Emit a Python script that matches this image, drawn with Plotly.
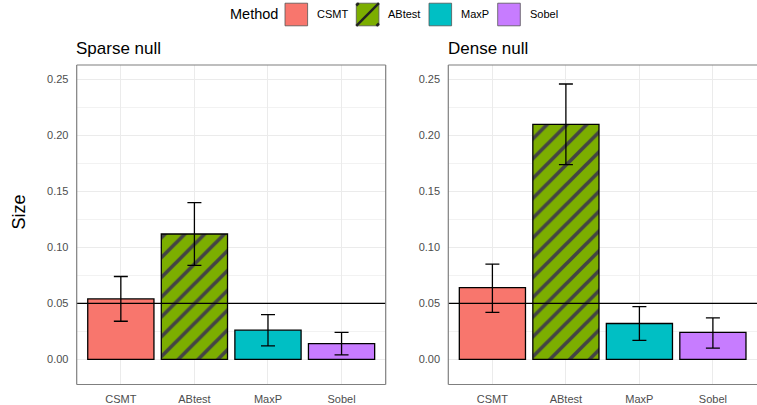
import plotly.graph_objects as go

# Empirical size (type I error) of each method under two null scenarios
methods = ["CSMT", "ABtest", "MaxP", "Sobel"]

sparse_size = [0.054, 0.112, 0.026, 0.014]
sparse_lower = [0.034, 0.084, 0.012, 0.004]
sparse_upper = [0.074, 0.140, 0.040, 0.024]

dense_size = [0.064, 0.210, 0.032, 0.024]
dense_lower = [0.042, 0.174, 0.017, 0.010]
dense_upper = [0.085, 0.246, 0.047, 0.037]

panel_titles = ["Sparse null", "Dense null"]
y_ticks = [0.00, 0.05, 0.10, 0.15, 0.20, 0.25]
nominal_level = 0.05

method_colors = ["#F8766D", "#7CAE00", "#00BFC4", "#C77CFF"]
method_patterns = ["", "/", "", ""]

W, H = 757, 405
FONT = "Liberation Sans, Arial, Helvetica, sans-serif"


def px_x(v):
    return v / W


def px_y(v):
    return 1 - v / H


panel_top, panel_bottom = 65, 384.5
x_domains = [[px_x(76.7), px_x(385.7)], [px_x(448.3), 1.0]]
y_domain = [px_y(panel_bottom), px_y(panel_top)]
y_range = [-0.0225, 0.263]

fig = go.Figure()

panels = [
    (sparse_size, sparse_lower, sparse_upper),
    (dense_size, dense_lower, dense_upper),
]

for i, (vals, lo, hi) in enumerate(panels):
    ax = "" if i == 0 else str(i + 1)
    fig.add_trace(go.Bar(
        x=methods,
        y=vals,
        width=0.9,
        marker=dict(
            color=method_colors,
            line=dict(color="black", width=1.3),
            pattern=dict(shape=method_patterns, fgcolor="#222222",
                         fgopacity=1, size=14, solidity=0.26),
        ),
        error_y=dict(
            type="data", symmetric=False,
            array=[h - v for h, v in zip(hi, vals)],
            arrayminus=[v - l for v, l in zip(vals, lo)],
            color="black", thickness=1.3, width=7,
        ),
        xaxis="x" + ax, yaxis="y" + ax,
        showlegend=False,
        hoverinfo="skip",
    ))

axis_common = dict(
    showline=False, zeroline=False,
    tickfont=dict(family=FONT, size=11, color="#4D4D4D"),
)

for i in range(2):
    ax = "" if i == 0 else str(i + 1)
    fig.update_layout(**{
        "xaxis" + ax: dict(
            domain=x_domains[i], anchor="y" + ax,
            type="category", categoryorder="array", categoryarray=methods,
            range=[-0.6, 3.6],
            showgrid=True, gridcolor="#EBEBEB", gridwidth=1,
            ticks="outside", ticklen=4, tickcolor="rgba(0,0,0,0)",
            automargin=False, fixedrange=True,
            **axis_common,
        ),
        "yaxis" + ax: dict(
            domain=y_domain, anchor="x" + ax,
            range=y_range,
            tickvals=y_ticks, ticktext=[f"{t:.2f}" for t in y_ticks],
            showgrid=True, gridcolor="#EBEBEB", gridwidth=1,
            minor=dict(tickvals=[0.025, 0.075, 0.125, 0.175, 0.225],
                       showgrid=True, gridcolor="#F2F2F2", gridwidth=0.7),
            ticks="outside", ticklen=5, tickcolor="rgba(0,0,0,0)",
            automargin=False, fixedrange=True,
            **axis_common,
        ),
    })

shapes = []
border = dict(color="#7F7F7F", width=1.2)
for i in range(2):
    ax = "" if i == 0 else str(i + 1)
    xr, yr = "x" + ax + " domain", "y" + ax + " domain"
    # nominal significance level
    shapes.append(dict(type="line", xref=xr, yref="y" + ax,
                       x0=0, x1=1, y0=nominal_level, y1=nominal_level,
                       line=dict(color="black", width=1.2), layer="above"))
    # panel border
    shapes.append(dict(type="line", xref=xr, yref=yr, x0=0, x1=0, y0=0, y1=1, line=border))
    shapes.append(dict(type="line", xref=xr, yref=yr, x0=0, x1=1, y0=1, y1=1, line=border))
    shapes.append(dict(type="line", xref=xr, yref=yr, x0=0, x1=1, y0=0, y1=0, line=border))
    if i == 0:
        shapes.append(dict(type="line", xref=xr, yref=yr, x0=1, x1=1, y0=0, y1=1, line=border))

annotations = []
# facet titles
for i, title in enumerate(panel_titles):
    annotations.append(dict(
        text=title, xref="paper", yref="paper",
        x=x_domains[i][0] - px_x(2.5), y=px_y(48.5), xanchor="left", yanchor="middle",
        showarrow=False, font=dict(family=FONT, size=17, color="black"),
    ))

# y axis title
annotations.append(dict(
    text="Size", xref="paper", yref="paper", x=px_x(18.5), y=px_y(212),
    xanchor="center", yanchor="middle", textangle=-90, showarrow=False,
    font=dict(family=FONT, size=18, color="black"),
))

# legend
legend_y = 14.5
key_half = 11.3
annotations.append(dict(
    text="Method", xref="paper", yref="paper", x=px_x(228), y=px_y(legend_y),
    xanchor="left", yanchor="middle", showarrow=False,
    font=dict(family=FONT, size=14.5, color="black"),
))
key_left = [285, 356.3, 429, 497.7]
for name, color, pat, kx in zip(methods, method_colors, method_patterns, key_left):
    x0, x1 = px_x(kx), px_x(kx + 2 * key_half)
    y0, y1 = px_y(legend_y + key_half), px_y(legend_y - key_half)
    shapes.append(dict(type="rect", xref="paper", yref="paper",
                       x0=x0, x1=x1, y0=y0, y1=y1,
                       fillcolor=color, line=dict(color="#555555", width=0.8)))
    if pat == "/":
        hatch = dict(color="#222222", width=2.4)
        shapes.append(dict(type="line", xref="paper", yref="paper",
                           x0=x0, y0=y0, x1=x1, y1=y1, line=hatch))
        d = 2.5
        shapes.append(dict(type="line", xref="paper", yref="paper",
                           x0=x0, y0=y1 - (d / H), x1=x0 + d / W, y1=y1, line=hatch))
        shapes.append(dict(type="line", xref="paper", yref="paper",
                           x0=x1 - d / W, y0=y0, x1=x1, y1=y0 + d / H, line=hatch))
    annotations.append(dict(
        text=name, xref="paper", yref="paper",
        x=px_x(kx + 2 * key_half + 7.5), y=px_y(legend_y),
        xanchor="left", yanchor="middle", showarrow=False,
        font=dict(family=FONT, size=11, color="black"),
    ))

fig.update_layout(
    width=W, height=H,
    margin=dict(l=0, r=0, t=0, b=0),
    paper_bgcolor="white", plot_bgcolor="white",
    bargap=0.1,
    shapes=shapes, annotations=annotations,
    showlegend=False,
)

fig.write_html("out.html", config={"displayModeBar": False})
